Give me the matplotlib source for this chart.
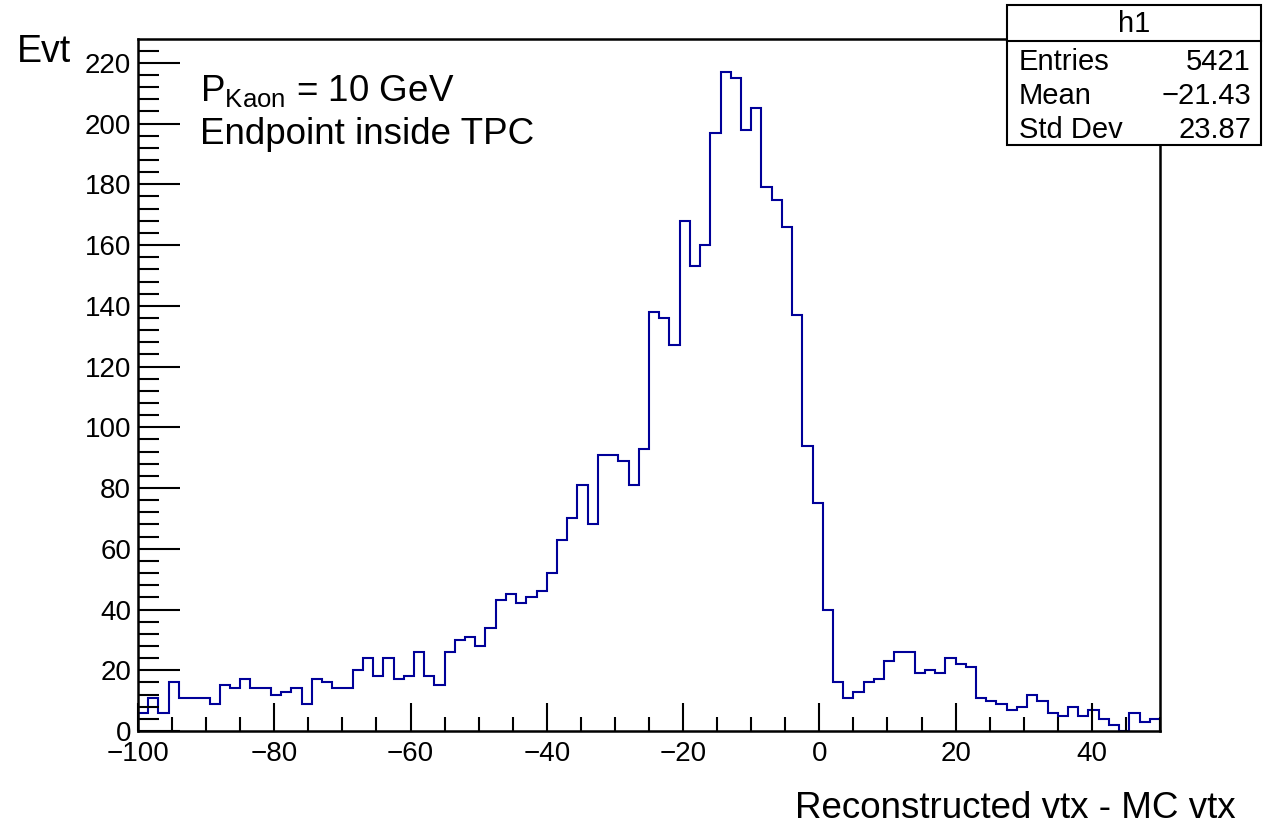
import numpy as np
import matplotlib
matplotlib.use("Agg")
import matplotlib.pyplot as plt
from matplotlib.ticker import MultipleLocator

# histogram h1: 100 bins from -100 to 50
x_min, x_max, n_bins = -100.0, 50.0, 100
counts = [6, 11, 6, 16, 11, 11, 11, 9, 15, 14,
          17, 14, 14, 12, 13, 14, 9, 17, 16, 14,
          14, 20, 24, 18, 24, 17, 18, 26, 18, 15,
          26, 30, 31, 28, 34, 43, 45, 42, 44, 46,
          52, 63, 70, 81, 68, 91, 91, 89, 81, 93,
          138, 136, 127, 168, 153, 160, 197, 217, 215, 198,
          205, 179, 175, 166, 137, 94, 75, 40, 16, 11,
          13, 16, 17, 23, 26, 26, 19, 20, 19, 24,
          22, 21, 11, 10, 9, 7, 8, 12, 10, 6,
          5, 8, 5, 7, 4, 2, 0, 6, 3, 4]
stat_names = ["Entries", "Mean", "Std Dev"]
stat_values = ["5421", "\u221221.43", "23.87"]

plt.rcParams['font.family'] = ['Liberation Sans', 'DejaVu Sans']

W, H = 1269, 826
fig = plt.figure(figsize=(W / 100, H / 100), dpi=100)
ax = fig.add_axes([138 / W, (H - 731) / H, (1160 - 138) / W, (731 - 39) / H])

edges = np.linspace(x_min, x_max, n_bins + 1)
ax.stairs(counts, edges, color='#000099', linewidth=1.5, baseline=0)

ax.set_xlim(x_min, x_max)
ax.set_ylim(0, max(counts) * 1.05)

# ROOT-like ticks: inside, only bottom/left
ax.xaxis.set_major_locator(MultipleLocator(20))
ax.xaxis.set_minor_locator(MultipleLocator(5))
ax.yaxis.set_major_locator(MultipleLocator(20))
ax.yaxis.set_minor_locator(MultipleLocator(4))
ax.tick_params(which='both', direction='in', top=False, right=False,
               labelsize=20, width=1.5, colors='black')
ax.tick_params(axis='x', which='major', length=20, pad=7)
ax.tick_params(axis='x', which='minor', length=10)
ax.tick_params(axis='y', which='major', length=30, pad=5)
ax.tick_params(axis='y', which='minor', length=15)
for s in ax.spines.values():
    s.set_linewidth(1.8)

# axis titles
fig.text(1236 / W, (H - 808) / H, "Reconstructed vtx - MC vtx", ha='right', va='center', fontsize=26.5)
fig.text(17 / W, (H - 52) / H, "Evt", ha='left', va='center', fontsize=27)

# annotations
ax.text(200 / W, (H - 92) / H, r"P$_{\mathregular{Kaon}}$ = 10 GeV", transform=fig.transFigure,
        ha='left', va='center', fontsize=26.5)
ax.text(200 / W, (H - 135) / H, "Endpoint inside TPC", transform=fig.transFigure,
        ha='left', va='center', fontsize=26.5)

# stats box
bx0, bx1, by0, by1, byh = 1007, 1261, 5, 145, 41
box = plt.Rectangle((bx0 / W, (H - by1) / H), (bx1 - bx0) / W, (by1 - by0) / H,
                    transform=fig.transFigure, facecolor='white', edgecolor='black',
                    linewidth=1.5, zorder=5)
fig.patches.append(box)
fig.add_artist(plt.Line2D([bx0 / W, bx1 / W], [(H - byh) / H] * 2, color='black', linewidth=1.5, zorder=6))
fig.text((bx0 + bx1) / 2 / W, (H - 24) / H, "h1", ha='center', va='center', fontsize=21, zorder=7)
for i, (name, val) in enumerate(zip(stat_names, stat_values)):
    yy = (H - (62 + 34 * i)) / H
    fig.text(1019 / W, yy, name, ha='left', va='center', fontsize=21, zorder=7)
    fig.text(1251 / W, yy, val, ha='right', va='center', fontsize=21, zorder=7)

fig.savefig("out.png", dpi=100)
